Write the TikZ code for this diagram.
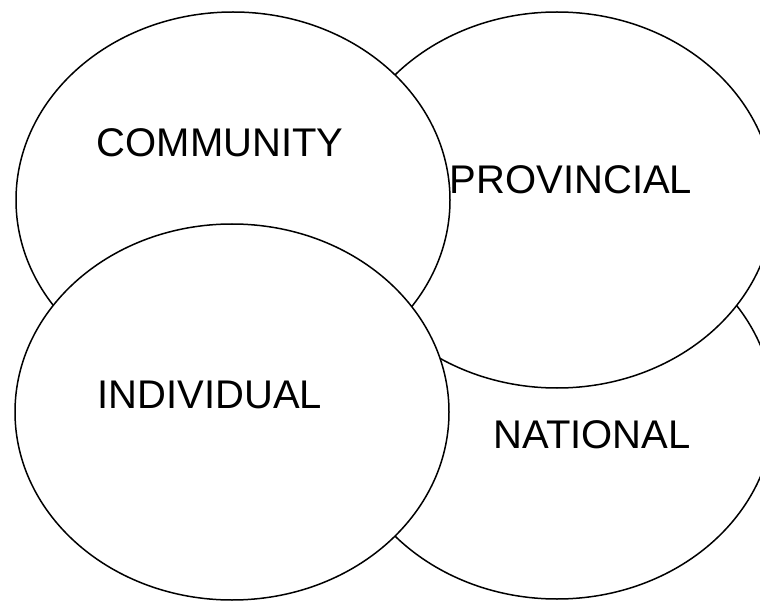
\documentclass[tikz,border=0pt]{standalone}
\usepackage{fontspec}
\setmainfont{Liberation Sans}
\usetikzlibrary{shapes.geometric}

\begin{document}
\begin{tikzpicture}[x=1pt,y=-1pt,
	ring/.style={draw,ellipse,fill=white,line width=1.5pt,inner sep=0pt,
		minimum width=434pt,minimum height=376pt},
	tag/.style={inner sep=0pt,font=\fontsize{40}{48}\selectfont}]
\clip (0,0) rectangle (760,601);

\foreach \x/\y/\n in {557/411/natl,557/200/prov,233/200/comm,232/412/indi}
	\node[ring] (\n) at (\x,\y) {};
\foreach \x/\y/\n/\t in {220/143/commtxt/COMMUNITY,571/180/provtxt/PROVINCIAL,210/395/inditxt/INDIVIDUAL,592/435/natltxt/NATIONAL}
	\node[tag] (\n) at (\x,\y) {\t};
\end{tikzpicture}
\end{document}
